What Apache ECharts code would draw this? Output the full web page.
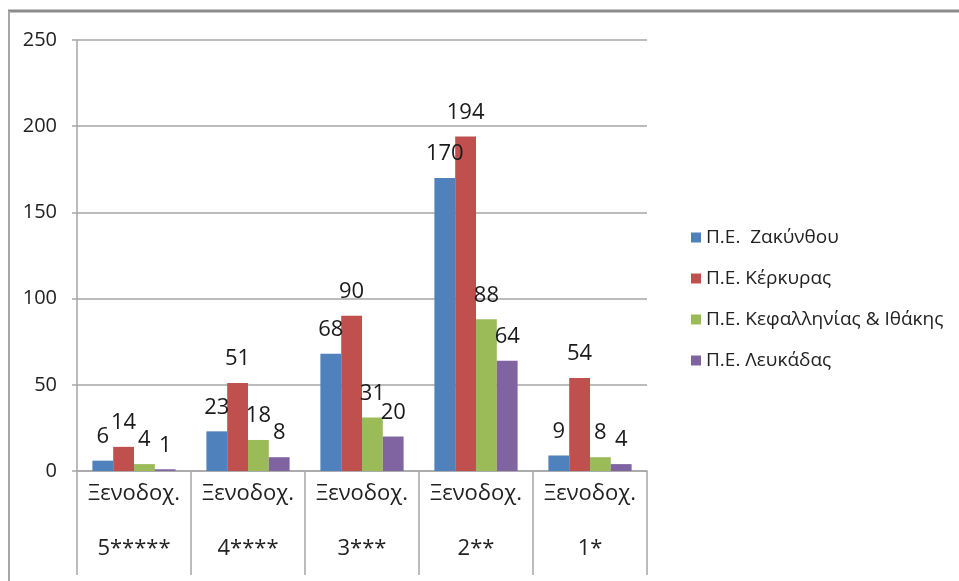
<!DOCTYPE html>
<html>
<head>
<meta charset="utf-8">
<script src="https://cdn.jsdelivr.net/npm/echarts@6/dist/echarts.min.js"></script>
<style>
  html, body { margin: 0; padding: 0; background: #fff; }
  #chart { width: 959px; height: 581px; }
</style>
</head>
<body>
<div id="chart"></div>
<script>
// Hotel categories (two-line labels)
const categories = ['Ξενοδοχ.\n5*****', 'Ξενοδοχ.\n4****', 'Ξενοδοχ.\n3***', 'Ξενοδοχ.\n2**', 'Ξενοδοχ.\n1*'];

// Number of hotels per regional unit
const zakynthos = [6, 23, 68, 170, 9];
const kerkyra = [14, 51, 90, 194, 54];
const kefallinia = [4, 18, 31, 88, 8];
const lefkada = [1, 8, 20, 64, 4];

const seriesNames = ['Π.Ε.  Ζακύνθου', 'Π.Ε. Κέρκυρας', 'Π.Ε. Κεφαλληνίας & Ιθάκης', 'Π.Ε. Λευκάδας'];
const seriesColors = ['#4f81bd', '#c0504d', '#9bbb59', '#8064a2'];
const seriesData = [zakynthos, kerkyra, kefallinia, lefkada];

const FONT = '"Open Sans", "DejaVu Sans", sans-serif';

const chart = echarts.init(document.getElementById('chart'), null, { renderer: 'canvas' });

chart.setOption({
  animation: false,
  backgroundColor: '#fff',
  textStyle: { fontFamily: FONT },
  graphic: [
    { type: 'line', shape: { x1: 8, y1: 11, x2: 959, y2: 11 }, style: { stroke: '#8c8c8c', lineWidth: 3 } },
    { type: 'line', shape: { x1: 9, y1: 11, x2: 9, y2: 581 }, style: { stroke: '#a6a6a6', lineWidth: 2 } }
  ],
  grid: { left: 77, right: 312, top: 40, bottom: 110 },
  legend: {
    orient: 'vertical',
    left: 686,
    top: 223,
    itemWidth: 10,
    itemHeight: 10,
    itemGap: 22,
    icon: 'rect',
    textStyle: { fontSize: 19, color: '#222', fontFamily: FONT },
    data: seriesNames
  },
  xAxis: {
    type: 'category',
    data: categories,
    axisLine: { show: true, lineStyle: { color: '#a6a6a6', width: 1.5 } },
    axisTick: { show: true, interval: 0, length: 104, lineStyle: { color: '#a6a6a6', width: 1.5 } },
    axisLabel: {
      interval: 0,
      hideOverlap: false,
      fontSize: 22,
      color: '#222',
      lineHeight: 55,
      margin: -5,
      fontFamily: FONT
    }
  },
  yAxis: {
    type: 'value',
    min: 0,
    max: 250,
    interval: 50,
    axisLine: { show: true, lineStyle: { color: '#a6a6a6', width: 1.5 } },
    axisTick: { show: true, length: 5, lineStyle: { color: '#a6a6a6', width: 1.5 } },
    axisLabel: { fontSize: 20, color: '#222', margin: 20, fontFamily: FONT },
    splitLine: { show: true, lineStyle: { color: '#a6a6a6', width: 1.5 } }
  },
  series: seriesNames.map((name, i) => ({
    name: name,
    type: 'bar',
    data: seriesData[i],
    barGap: '0%',
    barCategoryGap: '27%',
    itemStyle: { color: seriesColors[i] },
    label: {
      show: true,
      position: 'top',
      distance: 13,
      fontSize: 22,
      color: '#1a1a1a',
      fontFamily: FONT
    }
  }))
});
</script>
</body>
</html>
